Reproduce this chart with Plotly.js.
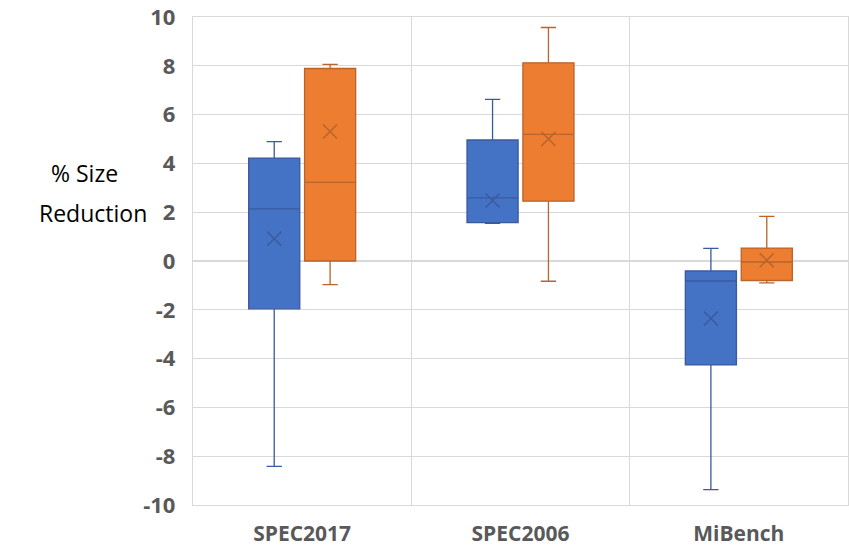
<!DOCTYPE html>
<html>
<head>
<meta charset="utf-8">
<script src="https://cdn.plot.ly/plotly-3.0.1.min.js"></script>
<style>html,body{margin:0;padding:0;background:#fff;}#chart{width:849px;height:548px;}</style>
</head>
<body>
<div id="chart"></div>
<script>
const categories = ["SPEC2017", "SPEC2006", "MiBench"];
const yTicks = [-10, -8, -6, -4, -2, 0, 2, 4, 6, 8, 10];
const yTickText = ["-10", "-8", "-6", "-4", "-2", "0", "2", "4", "6", "8", "10"];

// Blue series
const blueMin    = [-8.42, 1.54, -9.37];
const blueQ1     = [-1.96, 1.57, -4.26];
const blueMedian = [2.14, 2.59, -0.82];
const blueQ3     = [4.22, 4.96, -0.41];
const blueMax    = [4.89, 6.62, 0.52];
const blueMean   = [0.91, 2.48, -2.36];

// Orange series
const orangeMin    = [-0.97, -0.83, -0.90];
const orangeQ1     = [0.0, 2.45, -0.80];
const orangeMedian = [3.22, 5.19, -0.04];
const orangeQ3     = [7.89, 8.12, 0.53];
const orangeMax    = [8.06, 9.57, 1.83];
const orangeMean   = [5.31, 5.00, 0.03];

const OFF = 0.128, W = 0.234;
const idx = categories.map((c, i) => i);
const xBlue = idx.map(i => i - OFF);
const xOrange = idx.map(i => i + OFF);

function boxTrace(x, lo, q1, med, q3, hi, fill, line) {
  return {
    type: 'box', x: x, lowerfence: lo, q1: q1, median: med, q3: q3, upperfence: hi,
    width: W, whiskerwidth: 0.3, fillcolor: fill,
    line: {color: line, width: 1.3}, boxpoints: false, hoverinfo: 'skip', showlegend: false
  };
}
function meanTrace(x, m, col) {
  return {
    type: 'scatter', mode: 'markers', x: x, y: m,
    marker: {symbol: 'x-thin-open', size: 14, line: {color: col, width: 1.5}, color: col},
    showlegend: false, hoverinfo: 'skip'
  };
}

const data = [
  boxTrace(xBlue, blueMin, blueQ1, blueMedian, blueQ3, blueMax, '#4472C4', '#3A5A9E'),
  boxTrace(xOrange, orangeMin, orangeQ1, orangeMedian, orangeQ3, orangeMax, '#ED7D31', '#B8642A'),
  meanTrace(xBlue, blueMean, '#3A5A9E'),
  meanTrace(xOrange, orangeMean, '#B8642A')
];

const yTickFont = {family: 'Open Sans, sans-serif', size: 22, color: '#595959', weight: 'bold'};
const xTickFont = {family: 'Open Sans, sans-serif', size: 21, color: '#595959', weight: 'bold'};
const titleFont = {family: 'Open Sans, sans-serif', size: 23, color: '#000000'};

const layout = {
  width: 849, height: 548,
  margin: {l: 193, r: 1, t: 17, b: 43},
  paper_bgcolor: '#ffffff', plot_bgcolor: '#ffffff',
  showlegend: false,
  xaxis: {
    range: [-0.5, 2.5], tickmode: 'array', tickvals: idx, ticktext: categories,
    showgrid: false, zeroline: false, showline: true, mirror: true, linecolor: '#d9d9d9', linewidth: 1.2,
    ticks: '', ticklabelstandoff: 10, ticklabeloverflow: 'allow',
    tickfont: xTickFont,
    minor: {tickmode: 'array', tickvals: [0.5, 1.5], showgrid: true, gridcolor: '#d9d9d9', gridwidth: 1.2, ticks: ''}
  },
  yaxis: {
    range: [-10, 10], tickmode: 'array', tickvals: yTicks, ticktext: yTickText,
    showgrid: true, gridcolor: '#d9d9d9', gridwidth: 1.2, zeroline: false,
    showline: true, mirror: true, linecolor: '#d9d9d9', linewidth: 1.2,
    ticks: '', ticklabelstandoff: 12, ticklabeloverflow: 'allow',
    tickfont: yTickFont
  },
  annotations: [
    {xref: 'paper', yref: 'paper', x: -0.1649, y: 0.6796, xanchor: 'center', yanchor: 'middle',
     text: '% Size', showarrow: false, font: titleFont},
    {xref: 'paper', yref: 'paper', x: -0.1527, y: 0.598, xanchor: 'center', yanchor: 'middle',
     text: 'Reduction', showarrow: false, font: titleFont}
  ]
};

Plotly.newPlot('chart', data, layout, {displayModeBar: false, staticPlot: true});
</script>
</body>
</html>
